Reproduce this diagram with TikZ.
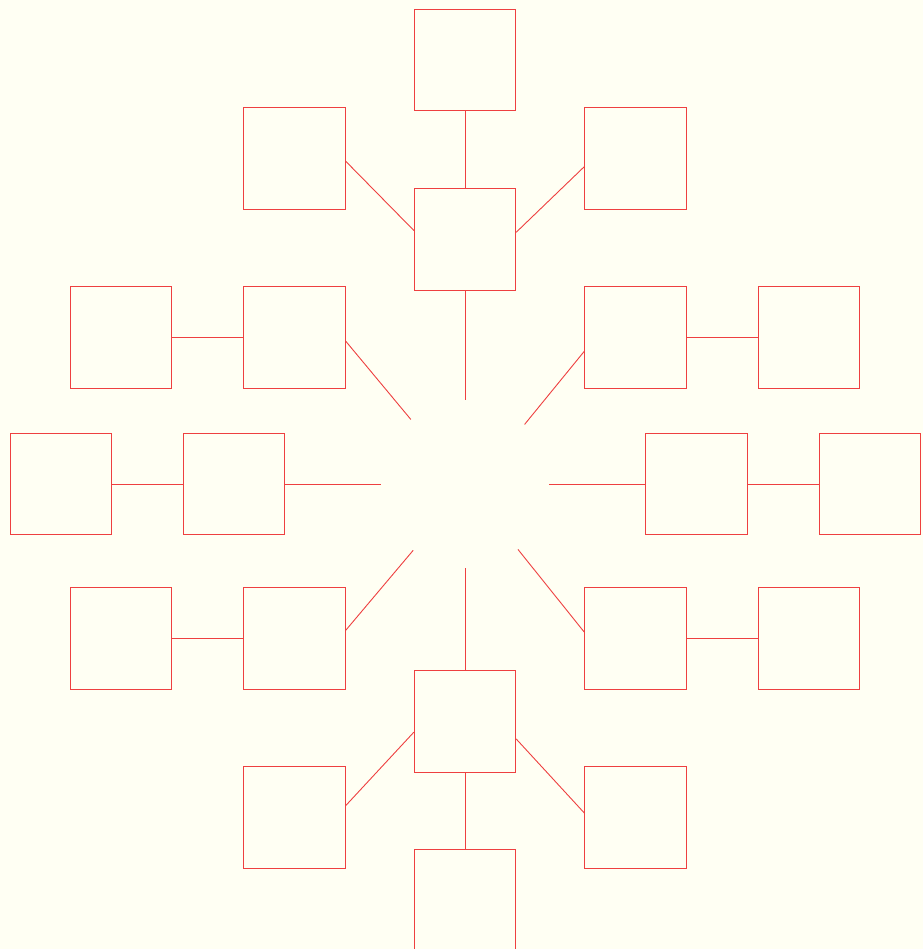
\documentclass[tikz,border=0pt]{standalone}
\definecolor{bgc}{RGB}{255,255,243}
\definecolor{ln}{RGB}{238,64,64}
\tikzset{
  box/.style={draw=ln, rectangle, minimum width=101.4pt, minimum height=101.4pt, inner sep=0pt, line width=0.9pt},
  hub/.style={circle, draw=none, minimum size=168pt, inner sep=0pt},
  link/.style={draw=ln, line width=0.9pt}
}
\begin{document}
\begin{tikzpicture}[x=1pt,y=-1pt]
\useasboundingbox (0,0) rectangle (923,949);
\fill[bgc] (0,0) rectangle (923,949);
\clip (0,0) rectangle (923,949);
\node[hub] (c) at (465,484) {};
% top branch
\node[box] (t)  at (465,60.2) {};
\node[box] (tm) at (465,239.5) {};
\node[box] (tl) at (294.5,158.5) {};
\node[box] (tr) at (635.5,158.5) {};
% upper side branches
\node[box] (uli) at (294.5,337.5) {};
\node[box] (ulo) at (121,337.5) {};
\node[box] (uri) at (635.5,337.5) {};
\node[box] (uro) at (809,337.5) {};
% horizontal branches
\node[box] (li) at (234,484) {};
\node[box] (lo) at (60.7,484) {};
\node[box] (ri) at (696.5,484) {};
\node[box] (ro) at (869.7,484) {};
% lower side branches
\node[box] (lli) at (294.5,638.5) {};
\node[box] (llo) at (121,638.5) {};
\node[box] (lri) at (635.5,638.5) {};
\node[box] (lro) at (809,638.5) {};
% bottom branch
\node[box] (bm) at (465,721.3) {};
\node[box] (bl) at (294.5,817.5) {};
\node[box] (br) at (635.5,817.5) {};
\node[box] (b)  at (465,900.5) {};
% connectors
\draw[link] (c.90) -- (tm.south);
\draw[link] (tm.north) -- (t.south);
\draw[link] (tm.170.5) -- (tl.-3.6);
\draw[link] (tm.8.7) -- (tr.189.6);
\draw[link] (c.130.1) -- (uli.-4.3);
\draw[link] (uli.west) -- (ulo.east);
\draw[link] (c.45.9) -- (uri.195);
\draw[link] (uri.east) -- (uro.west);
\draw[link] (c.180) -- (li.east);
\draw[link] (li.west) -- (lo.east);
\draw[link] (c.0) -- (ri.west);
\draw[link] (ri.east) -- (ro.west);
\draw[link] (c.232.9) -- (lli.9.5);
\draw[link] (lli.west) -- (llo.east);
\draw[link] (c.-51.7) -- (lri.173.4);
\draw[link] (lri.east) -- (lro.west);
\draw[link] (c.270) -- (bm.north);
\draw[link] (bm.south) -- (b.north);
\draw[link] (bm.192.5) -- (bl.13.8);
\draw[link] (bm.-19.3) -- (br.175);
\end{tikzpicture}
\end{document}
